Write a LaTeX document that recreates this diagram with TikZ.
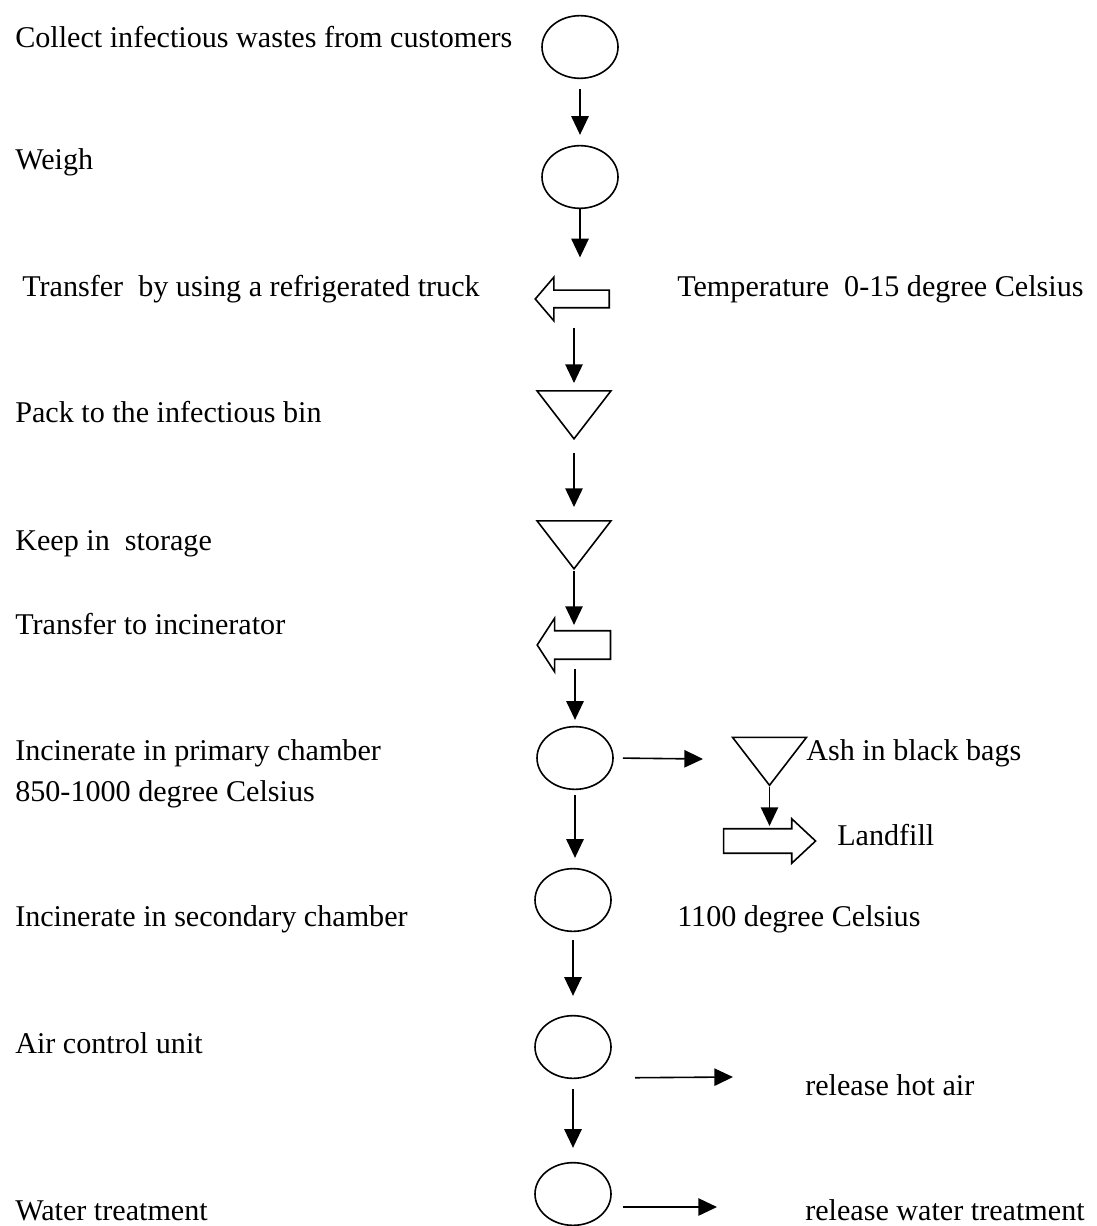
\documentclass[tikz,border=0pt]{standalone}
\usepackage{fontspec}
\setmainfont{Liberation Serif}
\usetikzlibrary{shapes.geometric,shapes.arrows,arrows.meta}
\begin{document}
\begin{tikzpicture}[x=0.75pt,y=-0.75pt,
  lab/.style={anchor=base west, inner sep=0, font=\fontsize{22.6}{30.75}\selectfont},
  oval/.style={ellipse, draw, line width=1.2pt, minimum width=57pt, minimum height=47pt, inner sep=0},
  tri/.style={isosceles triangle, isosceles triangle stretches, shape border rotate=-90, draw, line width=1.2pt, inner sep=0, minimum width=55.5pt, minimum height=36pt},
  blk/.style={single arrow, draw, line width=1.2pt, inner xsep=0},
  flow/.style={-{Triangle[length=14pt,width=13pt]}, line width=1.2pt}]
\useasboundingbox (0,0) rectangle (1096,1226);

% main column shapes
\node[oval] (e1) at (580,47) {};
\node[oval] (e2) at (580,177) {};
\node[blk, shape border rotate=180, inner ysep=6pt, single arrow head extend=9.75pt, minimum height=55.5pt, single arrow tip angle=99] (t1) at (576,299) {};
\node[tri] (tri1) at (574,409) {};
\node[tri] (tri2) at (574,539) {};
\node[blk, shape border rotate=180, inner ysep=10.1pt, single arrow head extend=9.4pt, minimum height=55pt, single arrow tip angle=114] (t2) at (578.5,645) {};
\node[oval] (e3) at (575,758) {};
\node[oval] (e4) at (573,900) {};
\node[oval] (e5) at (573,1047) {};
\node[oval] (e6) at (573,1194) {};

% side shapes
\node[tri] (tri3) at (769.5,755.5) {};
\node[blk, inner ysep=8.6pt, single arrow head extend=7.5pt, minimum height=69pt, single arrow tip angle=86] (land) at (763,841) {};

% free ends
\coordinate (ashTip) at (703,759);
\coordinate (hotTip) at (733,1077);
\coordinate (watTip) at (717,1207);

% vertical connectors
\draw[flow, shorten <=7.5pt, shorten >=7.5pt] (e1.south) -- (e1.south |- e2.north);
\draw[flow, shorten >=24pt] (e2.south) -- (e2.south |- t1.north);
\draw[flow, shorten <=14.25pt, shorten >=5.25pt] (tri1.north |- t1.south) -- (tri1.north);
\draw[flow, shorten <=9pt, shorten >=9.75pt] (tri1.south) -- (tri1.south |- tri2.north);
\draw[flow, shorten >=3.75pt] (tri2.south) -- (tri2.south |- t2.north);
\draw[flow, shorten <=6.75pt, shorten >=4.5pt] (e3.north |- t2.south) -- (e3.north);
\draw[flow, shorten <=3.75pt, shorten >=7.5pt] (e3.south) -- (e3.south |- e4.north);
\draw[flow, shorten <=6pt, shorten >=14.25pt] (e4.south) -- (e4.south |- e5.north);
\draw[flow, shorten <=7.5pt, shorten >=10.5pt] (e5.south) -- (e5.south |- e6.north);
\draw[flow, shorten >=1.5pt] (tri3.south) -- (tri3.south |- land.north);

% side connectors
\draw[flow, shorten <=6.75pt] (e3.east) -- (ashTip);
\draw[flow] ([xshift=26pt,yshift=-6pt]e5.south east) -- (hotTip);
\draw[flow] ([xshift=8.25pt,yshift=-9.75pt]e6.east) -- (watTip);

% labels
\node[lab] (l1) at (15,48) {Collect infectious wastes from customers};
\node[lab] (l2) at (15,170) {Weigh};
\node[lab] (l3) at (22,297) {Transfer\ \ by using a refrigerated truck};
\node[lab] (l3b) at (677,297) {Temperature\ \ 0-15 degree Celsius};
\node[lab] (l4) at (15,422) {Pack to the infectious bin};
\node[lab] (l5) at (15,550) {Keep in\ \ storage};
\node[lab] (l6) at (15,634) {Transfer to incinerator};
\node[lab, align=left] (l7) at (15,801) {Incinerate in primary chamber\\850-1000 degree Celsius};
\node[lab] (l7b) at (806,760) {Ash in black bags};
\node[lab] (l7c) at (837,845) {Landfill};
\node[lab] (l8) at (15,926) {Incinerate in secondary chamber};
\node[lab] (l8b) at (677,926) {1100 degree Celsius};
\node[lab] (l9) at (15,1053) {Air control unit};
\node[lab] (l9b) at (805,1095) {release hot air};
\node[lab] (l10) at (15,1220) {Water treatment};
\node[lab] (l10b) at (805,1220) {release water treatment};
\end{tikzpicture}
\end{document}
